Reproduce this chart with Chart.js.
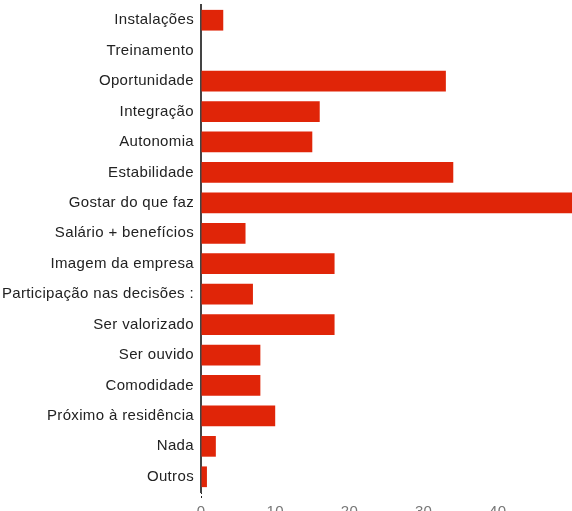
<!DOCTYPE html>
<html>
<head>
<meta charset="utf-8">
<script src="https://cdn.jsdelivr.net/npm/chart.js@4/dist/chart.umd.min.js"></script>
<style>
  html, body { margin: 0; padding: 0; background: #fff; overflow: hidden; }
  #wrap { width: 572px; height: 511px; overflow: hidden; }
</style>
</head>
<body>
<div id="wrap"><canvas id="motivosChart" width="572" height="520"></canvas></div>
<script>
// Categories and values
const categories = [
  "Instalações",
  "Treinamento",
  "Oportunidade",
  "Integração",
  "Autonomia",
  "Estabilidade",
  "Gostar do que faz",
  "Salário + benefícios",
  "Imagem da empresa",
  "Participação nas decisões :",
  "Ser valorizado",
  "Ser ouvido",
  "Comodidade",
  "Próximo à residência",
  "Nada",
  "Outros",
];
const values = [3, 0, 33, 16, 15, 34, 50, 6, 18, 7, 18, 8, 8, 10, 2, 0.8];
const xTicks = [0, 10, 20, 30, 40];

const barColor = "#e02508";
const axisColor = "#444444";

// canvas letter spacing, reapplied since resizing resets the context
const spacingPlugin = {
  id: "spacing",
  beforeLayout(chart) {
    chart.ctx.letterSpacing = "0.35px";
  },
  beforeDraw(chart) {
    chart.ctx.letterSpacing = "0.35px";
  },
};

const ctx = document.getElementById("motivosChart").getContext("2d");
window.motivosChart = new Chart(ctx, {
  type: "bar",
  data: {
    labels: categories,
    datasets: [
      {
        label: "Respostas",
        data: values,
        backgroundColor: barColor,
        borderWidth: 0,
        categoryPercentage: 0.68,
        barPercentage: 1,
      },
    ],
  },
  options: {
    indexAxis: "y",
    responsive: false,
    animation: false,
    layout: { padding: { top: 5, left: 0, right: 0, bottom: 0 } },
    plugins: {
      legend: { display: false },
      tooltip: { enabled: false },
    },
    scales: {
      y: {
        afterFit: (scale) => {
          scale.width = 201;
          scale.paddingTop = 0;
          scale.paddingBottom = 0;
        },
        grid: { display: false, drawTicks: false },
        border: { display: true, color: axisColor, width: 2 },
        ticks: {
          padding: 7,
          color: "#222222",
          font: { family: "'Liberation Sans', Arial, sans-serif", size: 15 },
        },
      },
      x: {
        min: 0,
        max: 50,
        afterFit: (scale) => {
          scale.height = 28;
        },
        afterBuildTicks: (scale) => {
          scale.ticks = xTicks.map((v) => ({ value: v }));
        },
        border: { display: false },
        grid: {
          drawOnChartArea: false,
          drawTicks: true,
          tickLength: 8,
          tickBorderDash: [2, 2],
          tickColor: (c) => (c.tick && c.tick.value === 0 ? "#222222" : "rgba(0,0,0,0)"),
          tickWidth: 1,
        },
        ticks: {
          padding: 3,
          color: "#777777",
          font: { family: "'Liberation Sans', Arial, sans-serif", size: 15 },
        },
      },
    },
  },
  plugins: [spacingPlugin],
});
</script>
</body>
</html>
